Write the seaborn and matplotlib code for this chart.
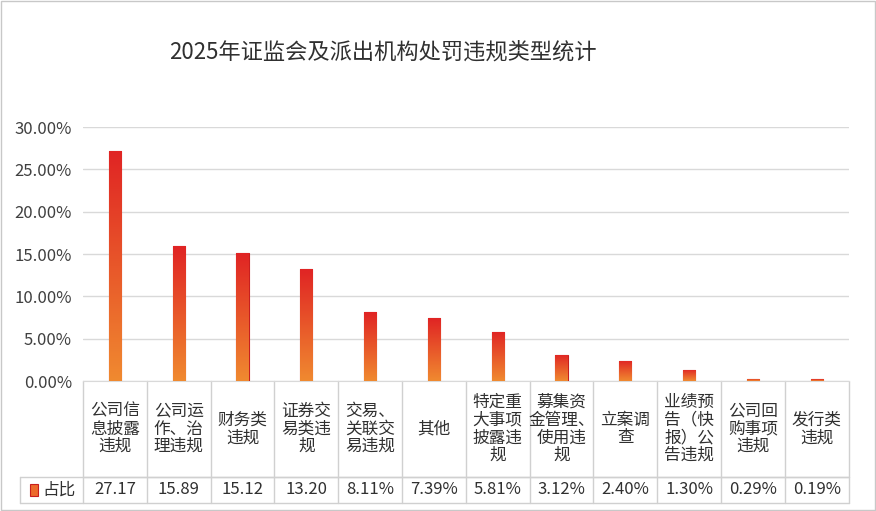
import matplotlib
matplotlib.use("Agg")
import matplotlib.pyplot as plt
import matplotlib.transforms as mtransforms
from matplotlib.colors import LinearSegmentedColormap
import numpy as np
import pandas as pd
import seaborn as sns

sns.set_style("white")
plt.rcParams['font.family'] = ['Noto Sans CJK SC', 'DejaVu Sans']

categories = ["公司信\n息披露\n违规", "公司运\n作、治\n理违规", "财务类\n违规", "证券交\n易类违\n规",
              "交易、\n关联交\n易违规", "其他", "特定重\n大事项\n披露违\n规", "募集资\n金管理、\n使用违\n规",
              "立案调\n查", "业绩预\n告（快\n报）公\n告违规", "公司回\n购事项\n违规", "发行类\n违规"]
values = [27.17, 15.89, 15.12, 13.20, 8.11, 7.39, 5.81, 3.12, 2.40, 1.30, 0.29, 0.19]
value_labels = ["27.17", "15.89", "15.12", "13.20", "8.11%", "7.39%", "5.81%", "3.12%", "2.40%", "1.30%", "0.29%", "0.19%"]
series_name = "占比"
title = "2025年证监会及派出机构处罚违规类型统计"

df = pd.DataFrame({"cat": range(len(values)), "val": [v / 100 for v in values]})

fig = plt.figure(figsize=(8.76, 5.11), dpi=100)
fig.patches.append(plt.Rectangle((0.001, 0.001), 0.998, 0.998, transform=fig.transFigure,
                                 fill=False, edgecolor="#c8c8c8", lw=1))
ax = fig.add_axes([0.0947, 0.2544, 0.874, 0.497])
sns.barplot(data=df, x="cat", y="val", ax=ax, width=0.19, color="#e84030",
            edgecolor="#c81e1e", linewidth=0.8, zorder=3)
cmap = LinearSegmentedColormap.from_list("g", ["#f08a30", "#e02424"])
grad = np.linspace(0, 1, 256).reshape(-1, 1)
for p in ax.patches:
    x0, y0 = p.get_x(), p.get_y()
    w, h = p.get_width(), p.get_height()
    im = ax.imshow(grad, cmap=cmap, origin="lower", aspect="auto",
                   extent=(x0, x0 + w, y0, y0 + h), zorder=3.5)
    im.set_clip_path(p)
ax.set_xlim(-0.5, len(values) - 0.5)
ax.set_ylim(0, 0.30)
ax.set_yticks(np.arange(0, 0.301, 0.05))
ax.set_yticklabels([f"{v*100:.2f}%" for v in np.arange(0, 0.301, 0.05)], fontsize=12, color="#404040")
ax.yaxis.grid(True, color="#d9d9d9", lw=1, zorder=0)
ax.set_xticks([])
ax.set_xlabel("")
ax.set_ylabel("")
for s in ["top", "right", "left"]:
    ax.spines[s].set_visible(False)
ax.spines["bottom"].set_color("#d9d9d9")
ax.tick_params(axis="y", length=0, pad=8)

tr = mtransforms.blended_transform_factory(ax.transData, ax.transAxes)
y1, y2 = -0.378, -0.480
lc = "#d0d0d0"
n = len(values)
for i in range(n + 1):
    ax.plot([i - 0.5, i - 0.5], [0, y2], transform=tr, color=lc, lw=1, clip_on=False)
left = -0.5 - 63 / 63.8
ax.plot([-0.5, n - 0.5], [y1, y1], transform=tr, color=lc, lw=1, clip_on=False)
ax.plot([left, n - 0.5], [y1, y1], transform=tr, color=lc, lw=1, clip_on=False)
ax.plot([left, n - 0.5], [y2, y2], transform=tr, color=lc, lw=1, clip_on=False)
ax.plot([left, left], [y1, y2], transform=tr, color=lc, lw=1, clip_on=False)
for i, (c, vl) in enumerate(zip(categories, value_labels)):
    ax.text(i, y1 / 2, c, transform=tr, ha="center", va="center", fontsize=12,
            color="#303030", linespacing=1.05)
    ax.text(i, (y1 + y2) / 2, vl, transform=tr, ha="center", va="center", fontsize=12, color="#303030")
ax.add_patch(plt.Rectangle((left + 0.15, (y1 + y2) / 2 - 0.022), 0.14, 0.044, transform=tr,
                           facecolor="#ec6a2c", edgecolor="#c81e1e", lw=0.8, clip_on=False))
ax.text(left + 0.35, (y1 + y2) / 2, series_name, transform=tr, ha="left", va="center",
        fontsize=12, color="#303030")

fig.text(0.437, 0.898, title, ha="center", va="center", fontsize=16, color="#303030")
fig.savefig("out.png", dpi=100)
